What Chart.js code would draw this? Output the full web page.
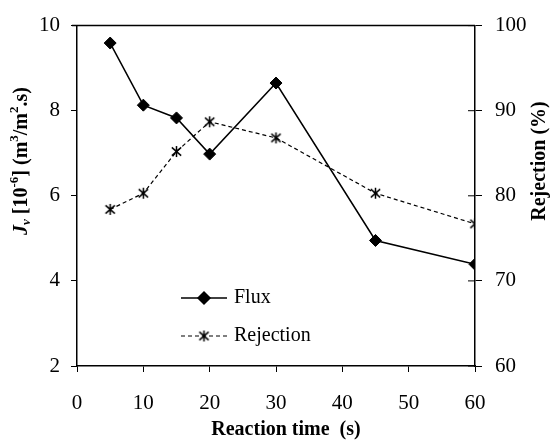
<!DOCTYPE html>
<html>
<head>
<meta charset="utf-8">
<script src="https://cdn.jsdelivr.net/npm/chart.js@4"></script>
<style>
html,body{margin:0;padding:0;background:#fff;}
#wrap{width:550px;height:443px;}
</style>
</head>
<body>
<div id="wrap"><canvas id="c" width="550" height="443"></canvas></div>
<script>
const reactionTime = [5, 10, 15, 20, 30, 45, 60];
const fluxValues = [9.59, 8.13, 7.83, 6.98, 8.65, 4.95, 4.39];
const rejectionValues = [78.4, 80.3, 85.2, 88.7, 86.8, 80.3, 76.7];
const xTitle = 'Reaction time  (s)';
const rightTitle = 'Rejection (%)';

const SERIF = '"Liberation Serif","Times New Roman",serif';

// six-ray asterisk marker
function makeAsterisk(size) {
  const c = document.createElement('canvas');
  c.width = size; c.height = size;
  const g = c.getContext('2d');
  const h = size / 2, r = size / 2 - 1;
  g.strokeStyle = '#000';
  g.lineWidth = 1.5;
  g.beginPath();
  g.moveTo(h - r * 0.85, h - r * 0.75); g.lineTo(h + r * 0.85, h + r * 0.75);
  g.moveTo(h + r * 0.85, h - r * 0.75); g.lineTo(h - r * 0.85, h + r * 0.75);
  g.moveTo(h, h - r); g.lineTo(h, h + r);
  g.stroke();
  return c;
}
const asterisk = makeAsterisk(13);

function drawRich(ctx, parts, cx, cy, rot) {
  ctx.save();
  ctx.translate(cx, cy);
  ctx.rotate(rot);
  let total = 0;
  parts.forEach(p => { ctx.font = p.font; p.w = ctx.measureText(p.text).width; total += p.w; });
  let x = -total / 2;
  ctx.fillStyle = '#000';
  ctx.textBaseline = 'middle';
  ctx.textAlign = 'left';
  parts.forEach(p => { ctx.font = p.font; ctx.fillText(p.text, x, p.dy || 0); x += p.w; });
  ctx.restore();
}

const decor = {
  id: 'decor',
  afterDraw(chart) {
    const ctx = chart.ctx;
    const a = chart.chartArea;
    const yR = chart.scales.yR;
    ctx.save();
    ctx.strokeStyle = '#000';
    ctx.lineWidth = 1.5;
    ctx.beginPath();
    ctx.moveTo(a.left - 5, a.top);
    ctx.lineTo(a.right, a.top);
    ctx.stroke();
    ctx.lineWidth = 1;
    yR.ticks.forEach(t => {
      const y = yR.getPixelForValue(t.value);
      ctx.beginPath();
      ctx.moveTo(a.right - 7, y);
      ctx.lineTo(a.right, y);
      ctx.stroke();
    });
    ctx.restore();

    const B = 'bold 20px ' + SERIF;
    const BI = 'italic bold 20px ' + SERIF;
    const BS = 'bold 13px ' + SERIF;
    const BIS = 'italic bold 13px ' + SERIF;
    drawRich(ctx, [
      {text: 'J', font: BI},
      {text: 'v', font: BIS, dy: 5},
      {text: ' [10', font: B},
      {text: '-6', font: BS, dy: -7},
      {text: '] (m', font: B},
      {text: '3', font: BS, dy: -7},
      {text: '/m', font: B},
      {text: '2', font: BS, dy: -7},
      {text: '.s)', font: B}
    ], 22, 161, -Math.PI / 2);
    drawRich(ctx, [{text: rightTitle, font: B}], 540, 161, -Math.PI / 2);
    drawRich(ctx, [{text: xTitle, font: B}], 286, 430, 0);

    const ds = chart.data.datasets;
    const legendY = [298, 336];
    ds.forEach((d, i) => {
      const y = legendY[i];
      ctx.save();
      ctx.strokeStyle = '#000';
      ctx.lineWidth = d.borderWidth;
      ctx.setLineDash(d.borderDash || []);
      ctx.beginPath();
      ctx.moveTo(181, y);
      ctx.lineTo(227, y);
      ctx.stroke();
      ctx.setLineDash([]);
      Chart.helpers.drawPoint(ctx, {
        pointStyle: d.pointStyle, radius: d.pointRadius, borderWidth: 1, rotation: 0
      }, 204, y);
      if (d.pointStyle === 'rectRot') { ctx.fillStyle = '#000'; ctx.fill(); }
      ctx.fillStyle = '#000';
      ctx.font = '20px ' + SERIF;
      ctx.textBaseline = 'middle';
      ctx.textAlign = 'left';
      ctx.fillText(d.label, 234, y);
      ctx.restore();
    });
  }
};

new Chart(document.getElementById('c'), {
  type: 'scatter',
  data: {
    datasets: [
      {
        label: 'Flux',
        data: reactionTime.map((t, i) => ({x: t, y: fluxValues[i]})),
        yAxisID: 'yL',
        showLine: true,
        borderColor: '#000',
        backgroundColor: '#000',
        borderWidth: 1.5,
        pointStyle: 'rectRot',
        pointRadius: 6,
        pointBorderWidth: 1,
        pointBackgroundColor: '#000',
        pointBorderColor: '#000'
      },
      {
        label: 'Rejection',
        data: reactionTime.map((t, i) => ({x: t, y: rejectionValues[i]})),
        yAxisID: 'yR',
        showLine: true,
        borderColor: '#000',
        backgroundColor: '#000',
        borderWidth: 1.2,
        borderDash: [4, 3],
        pointStyle: asterisk,
        pointRadius: 6,
        pointBorderWidth: 1.4,
        pointBorderColor: '#000'
      }
    ]
  },
  options: {
    responsive: false,
    animation: false,
    events: [],
    layout: {padding: {top: 14, left: 0, right: 0, bottom: 0}},
    plugins: {legend: {display: false}, tooltip: {enabled: false}},
    scales: {
      x: {
        type: 'linear', min: 0, max: 60,
        afterFit(s) { s.height = 77; },
        ticks: {stepSize: 10, color: '#000', font: {family: SERIF, size: 21}, padding: 19, maxRotation: 0},
        grid: {drawOnChartArea: false, drawTicks: true, tickLength: 6, color: '#000', lineWidth: 1},
        border: {display: true, color: '#000', width: 1.5}
      },
      yL: {
        type: 'linear', position: 'left', min: 2, max: 10,
        afterFit(s) { s.width = 77; },
        ticks: {stepSize: 2, color: '#000', font: {family: SERIF, size: 21}, padding: 11},
        grid: {drawOnChartArea: false, drawTicks: true, tickLength: 6, color: '#000', lineWidth: 1},
        border: {display: true, color: '#000', width: 1.5}
      },
      yR: {
        type: 'linear', position: 'right', min: 60, max: 100,
        afterFit(s) { s.width = 75; },
        ticks: {stepSize: 10, color: '#000', font: {family: SERIF, size: 21}, padding: 13},
        grid: {drawOnChartArea: false, drawTicks: true, tickLength: 7, color: '#000', lineWidth: 1},
        border: {display: true, color: '#000', width: 1.5}
      }
    }
  },
  plugins: [decor]
});
</script>
</body>
</html>
